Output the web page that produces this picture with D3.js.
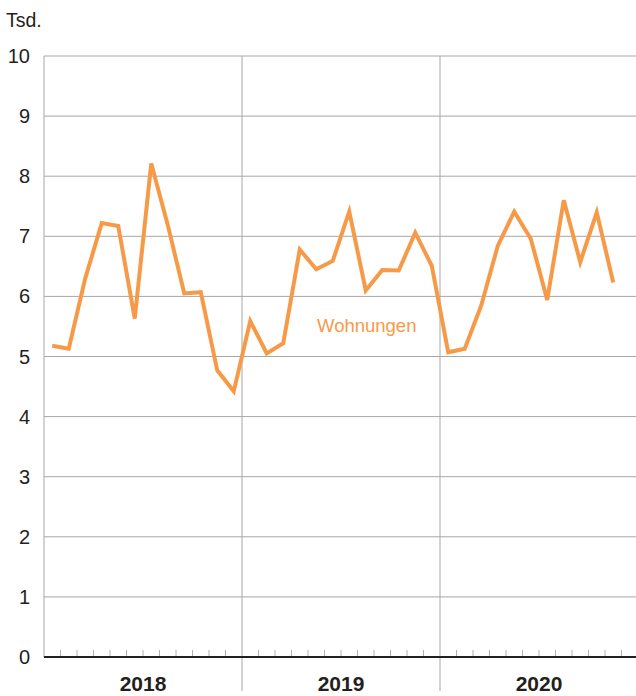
<!DOCTYPE html>
<html>
<head>
<meta charset="utf-8">
<script src="https://cdn.jsdelivr.net/npm/d3@7"></script>
<style>
    body { margin: 0; background: #fff; }
    svg { display: block; font-family: "Liberation Sans", Arial, Helvetica, sans-serif; }
</style>
</head>
<body>
<script>
    // monthly values, Jan 2018 - Nov 2020 (Tsd.)
    var years = [2018, 2019, 2020];
    var values2018 = [5.18, 5.13, 6.3, 7.22, 7.17, 5.63, 8.21, 7.19, 6.05, 6.07, 4.77, 4.42];
    var values2019 = [5.59, 5.05, 5.22, 6.78, 6.45, 6.59, 7.41, 6.10, 6.44, 6.43, 7.06, 6.51];
    var values2020 = [5.07, 5.13, 5.85, 6.84, 7.41, 6.96, 5.94, 7.60, 6.57, 7.40, 6.23];
    var yTicks = [0, 1, 2, 3, 4, 5, 6, 7, 8, 9, 10];
    var seriesName = "Wohnungen";
    var unitLabel = "Tsd.";

    var values = values2018.concat(values2019, values2020);

    var svgWidth = 636, svgHeight = 696;
    var plotLeft = 44, plotRight = 638, plotTop = 56, plotBottom = 657;

    var svg = d3.select('body').append('svg')
        .attr('width', svgWidth)
        .attr('height', svgHeight);

    var x = d3.scaleLinear().domain([0, years.length * 12]).range([plotLeft, plotRight]);
    var y = d3.scaleLinear().domain([0, 10]).range([plotBottom, plotTop]);

    // horizontal grid
    svg.append('g')
        .selectAll('line')
        .data(yTicks.filter(function (d) { return d > 0; }))
        .enter().append('line')
        .attr('x1', plotLeft).attr('x2', svgWidth)
        .attr('y1', function (d) { return y(d); })
        .attr('y2', function (d) { return y(d); })
        .attr('stroke', '#a7a7a7')
        .attr('stroke-width', 1);

    // left border
    svg.append('line')
        .attr('x1', plotLeft).attr('x2', plotLeft)
        .attr('y1', plotTop).attr('y2', plotBottom)
        .attr('stroke', '#a7a7a7');

    // year dividers
    svg.append('g')
        .selectAll('line')
        .data(d3.range(1, years.length))
        .enter().append('line')
        .attr('x1', function (d) { return x(d * 12); })
        .attr('x2', function (d) { return x(d * 12); })
        .attr('y1', plotTop).attr('y2', 691)
        .attr('stroke', '#a7a7a7')
        .attr('stroke-width', 1);

    // month ticks
    svg.append('g')
        .selectAll('line')
        .data(d3.range(1, years.length * 12).filter(function (d) { return d % 12 !== 0; }))
        .enter().append('line')
        .attr('x1', function (d) { return x(d); })
        .attr('x2', function (d) { return x(d); })
        .attr('y1', plotBottom - 7).attr('y2', plotBottom)
        .attr('stroke', '#b0b0b0')
        .attr('stroke-width', 1);

    // baseline
    svg.append('line')
        .attr('x1', plotLeft).attr('x2', svgWidth)
        .attr('y1', plotBottom).attr('y2', plotBottom)
        .attr('stroke', '#231f20')
        .attr('stroke-width', 2.2);

    // y labels
    svg.append('g')
        .selectAll('text')
        .data(yTicks)
        .enter().append('text')
        .attr('x', 30)
        .attr('y', function (d) { return y(d); })
        .attr('dy', '0.35em')
        .attr('text-anchor', 'end')
        .attr('font-size', 20)
        .attr('fill', '#231f20')
        .text(function (d) { return d; });

    svg.append('text')
        .attr('x', 6).attr('y', 27)
        .attr('font-size', 19.5)
        .attr('fill', '#231f20')
        .text(unitLabel);

    // year labels
    svg.append('g')
        .selectAll('text')
        .data(years)
        .enter().append('text')
        .attr('x', function (d, i) { return x(i * 12 + 6); })
        .attr('y', 691)
        .attr('text-anchor', 'middle')
        .attr('font-size', 21)
        .attr('font-weight', 'bold')
        .attr('fill', '#231f20')
        .text(function (d) { return d; });

    // series line
    var line = d3.line()
        .x(function (d, i) { return x(i + 0.5); })
        .y(function (d) { return y(d); });

    svg.append('path')
        .datum(values)
        .attr('d', line)
        .attr('fill', 'none')
        .attr('stroke', '#f79a48')
        .attr('stroke-width', 4)
        .attr('stroke-linejoin', 'miter');

    svg.append('text')
        .attr('x', 317).attr('y', 332)
        .attr('font-size', 18.5)
        .attr('fill', '#f79a48')
        .text(seriesName);
</script>
</body>
</html>
